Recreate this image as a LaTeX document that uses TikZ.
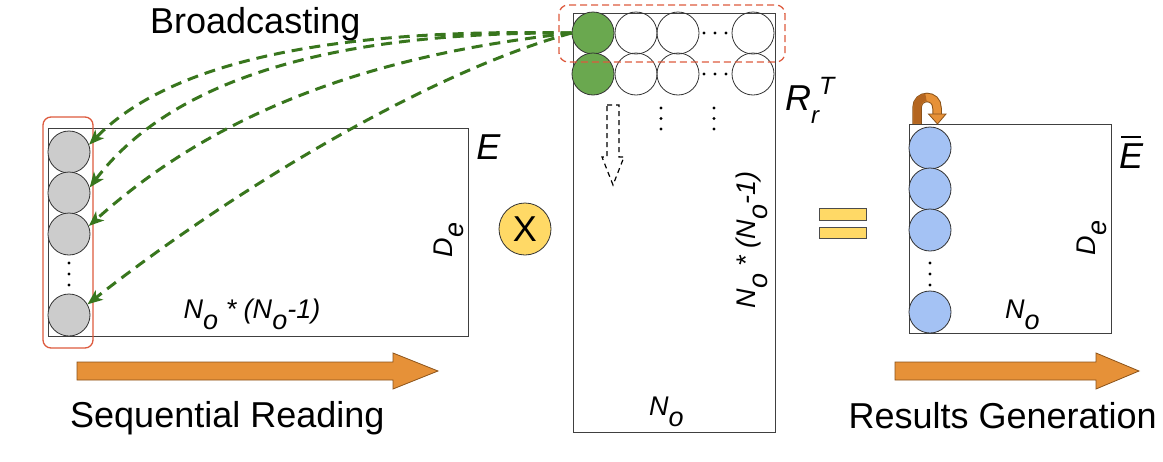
\documentclass[tikz,border=0pt]{standalone}
\usepackage{fontspec}
\setmainfont{Liberation Sans}
\usetikzlibrary{arrows.meta}
\definecolor{bgreen}{HTML}{38761D}
\definecolor{cgreen}{HTML}{6AA84F}
\definecolor{cgray}{HTML}{CCCCCC}
\definecolor{cblue}{HTML}{A4C2F4}
\definecolor{cgold}{HTML}{FFD966}
\definecolor{corange}{HTML}{E69138}
\definecolor{cbrown}{HTML}{8A5219}
\definecolor{cdark}{HTML}{B4651F}
\definecolor{cred}{HTML}{DD5A3E}
\newcommand\lowo{\raisebox{-0.42em}{o}}
\newcommand\lowe{\raisebox{-0.42em}{e}}
\begin{document}
\begin{tikzpicture}[x=1pt,y=-1pt,
  mat/.style={draw=black!75, line width=0.9pt, inner sep=0pt, fill=none},
  cell/.style={circle, draw=black!80, line width=0.8pt, minimum size=42pt, inner sep=0pt},
  big/.style={font=\fontsize{36}{40}\selectfont, inner sep=0pt},
  lab/.style={font=\fontsize{27}{30}\selectfont\itshape, inner sep=0pt},
  bc/.style={draw=bgreen, line width=3pt, dash pattern=on 11pt off 7pt, -{Stealth[length=15pt,width=12pt,inset=4pt]}},
  dotc/.style={fill=black},
  flow/.style={fill=corange, draw=cbrown, line width=0.8pt}
]
\useasboundingbox (0,0) rectangle (1163,461);

% matrices
\node[mat, minimum width=420pt, minimum height=208pt] (E) at (258,232) {};
\node[mat, minimum width=202pt, minimum height=419pt] (R) at (674,222.5) {};
\node[mat, minimum width=202pt, minimum height=209pt] (Eb) at (1010,228.5) {};

% left column (E)
\node[cell, fill=cgray] (l1) at (69,152) {};
\node[cell, fill=cgray] (l2) at (69,193) {};
\node[cell, fill=cgray] (l3) at (69,234) {};
\node[cell, fill=cgray] (l4) at (69,315) {};
\foreach \yy in {263,274,285} \fill[dotc] (69,\yy) circle (1.6pt);
\draw[cred, line width=1.3pt, rounded corners=8pt] (43,117) rectangle (93,348);

% middle rows (R)
\node[cell, fill=cgreen] (g1) at (593,33) {};
\node[cell] (a2) at (636,33) {};
\node[cell] (a3) at (678,33) {};
\node[cell] (a4) at (753,33) {};
\node[cell, fill=cgreen] (g2) at (593,74) {};
\node[cell] (b2) at (636,74) {};
\node[cell] (b3) at (678,74) {};
\node[cell] (b4) at (753,74) {};
\foreach \xx in {704,715,726} {\fill[dotc] (\xx,33) circle (1.6pt); \fill[dotc] (\xx,74) circle (1.6pt);}
\foreach \yy in {108,118.5,129} {\fill[dotc] (661,\yy) circle (1.6pt); \fill[dotc] (714,\yy) circle (1.6pt);}
\draw[cred, line width=1.3pt, dash pattern=on 7pt off 4pt, rounded corners=9pt] (559,5) rectangle (785,62);
\draw[black, line width=1.2pt, dash pattern=on 5pt off 4pt] (607,105) -- (619,105) -- (619,157) -- (624,157) -- (613,185) -- (602,157) -- (607,157) -- cycle;

% right column (E bar)
\node[cell, fill=cblue] (r1) at (930,148) {};
\node[cell, fill=cblue] (r2) at (930,189) {};
\node[cell, fill=cblue] (r3) at (930,230) {};
\node[cell, fill=cblue] (r4) at (930,312) {};
\foreach \yy in {263,274,285} \fill[dotc] (930,\yy) circle (1.6pt);

% U-turn arrow
\draw[cbrown, line width=9.5pt] (917,124) -- (917,108) .. controls (917,94) and (937,94) .. (937,108) -- (937,115);
\draw[corange, line width=7.5pt] (917,123.5) -- (917,108) .. controls (917,94) and (937,94) .. (937,108) -- (937,115.5);
\draw[cdark, line width=7.5pt] (917,123.5) -- (917,108) .. controls (917,101) and (921,97.5) .. (926,97.5);
\filldraw[flow] (928.5,114) -- (946,114) -- (937.5,124) -- cycle;

% broadcasting arrows
\draw[bc] (g1.west) .. controls (330,28) and (170,62) .. (l1.20);
\draw[bc] (g1.west) .. controls (400,32) and (190,55) .. (l2.15);
\draw[bc] (g1.west) .. controls (420,50) and (240,90) .. (l3.22);
\draw[bc] (g1.west) .. controls (420,75) and (220,200) .. (l4.30);

% operators
\node[circle, draw=black!80, line width=0.8pt, fill=cgold, minimum size=52pt, inner sep=0pt, font=\fontsize{36}{40}\selectfont] (times) at (525,229) {X};
\draw[fill=cgold, draw=black!70, line width=0.8pt] (819,208) rectangle (866,220);
\draw[fill=cgold, draw=black!70, line width=0.8pt] (819,227) rectangle (866,238);

% flow arrows
\filldraw[flow] (77,362) -- (393,362) -- (393,353) -- (438,371) -- (393,389) -- (393,380) -- (77,380) -- cycle;
\filldraw[flow] (895,362) -- (1096,362) -- (1096,353) -- (1139,371) -- (1096,389) -- (1096,380) -- (895,380) -- cycle;

% labels
\node[big, anchor=base west] (tb) at (150,33) {Broadcasting};
\node[big, anchor=base west] (ts) at (70,427) {Sequential Reading};
\node[big, anchor=base east] (tr) at (1157,428) {Results Generation};
\node[font=\fontsize{36}{40}\selectfont\itshape, inner sep=0pt] (tE) at (488.5,147.5) {E};
\node[font=\fontsize{36}{40}\selectfont\itshape, inner sep=0pt, anchor=base west] (tR) at (785,110) {R\raisebox{-13pt}{\fontsize{24}{26}\selectfont r}\raisebox{16pt}{\fontsize{25}{26}\selectfont T}};
\node[font=\fontsize{36}{40}\selectfont\itshape, inner sep=0pt, anchor=base] (tEb) at (1131,168) {E};
\draw[black, line width=2pt] (1121,137) -- (1141,137);
\node[lab, rotate=90] (dl) at (449,240) {D\lowe};
\node[lab, anchor=base] (nl) at (252,318) {N\lowo{} * (N\lowo-1)};
\node[lab, rotate=90] (nm) at (752,240) {N\lowo{} * (N\lowo-1)};
\node[lab, anchor=base west] (nb) at (649,415) {N\lowo};
\node[lab, rotate=90] (dr) at (1092,238) {D\lowe};
\node[lab, anchor=base west] (nr) at (1005,318) {N\lowo};
\end{tikzpicture}
\end{document}
